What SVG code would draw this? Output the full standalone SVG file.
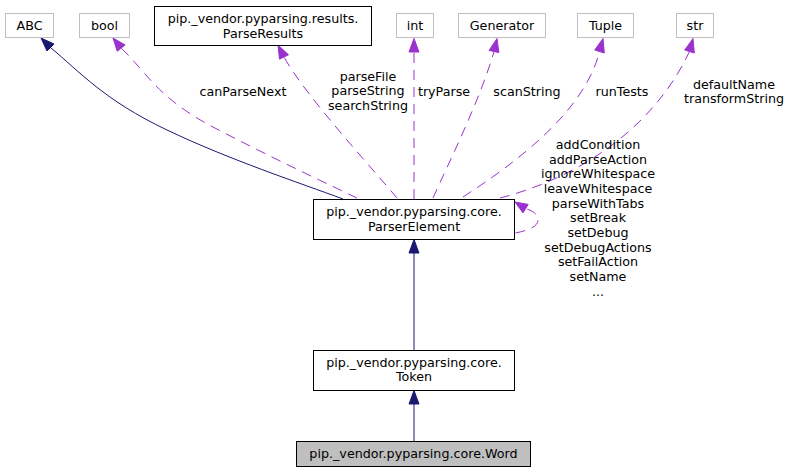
<svg xmlns="http://www.w3.org/2000/svg" width="790" height="472" viewBox="0 0 790 472">
<style>
text{font-family:"DejaVu Sans","Liberation Sans",sans-serif;font-size:12.7px;fill:#000;text-anchor:middle}
.ext rect{fill:#fff;stroke:#bfbfbf;stroke-width:1}
.cls rect{fill:#fff;stroke:#000;stroke-width:1}
.cur rect{fill:#bfbfbf;stroke:#000;stroke-width:1}
.inh{fill:none;stroke:#191970;stroke-width:1}
.inhA{fill:#191970;stroke:#191970;stroke-width:1}
.use{fill:none;stroke:#9a32cd;stroke-width:1;stroke-dasharray:10,7}
.useA{fill:#9a32cd;stroke:#9a32cd;stroke-width:1}
</style>
<rect width="790" height="472" fill="#fff"/>
<g id="edges">
<path class="inh" d="M343,199 C300,183 230,160 167,130 S80,72 50.5,47.5"/>
<polygon class="inhA" points="41,38 54,44 47,51"/>
<path class="use" d="M357,198 C330,185 270,157 213,127 S145,70 121.2,48.1"/>
<polygon class="useA" points="113,38 125.1,44.9 117.3,51.3"/>
<path class="use" d="M397,198 C365,160 305,95 284,57"/>
<polygon class="useA" points="278,45 288.5,54.8 279.5,59.2"/>
<path class="use" d="M414,199 L414,52"/>
<polygon class="useA" points="414,38.5 419,52 409,52"/>
<path class="use" d="M433,198 C450,160 480,100 494,51.5"/>
<polygon class="useA" points="497,38.5 498.9,52.6 489.1,50.4"/>
<path class="use" d="M463,197 C520,160 585,110 599.5,51.5"/>
<polygon class="useA" points="603,38.5 604.3,53 594.7,50"/>
<path class="use" d="M500,198 C570,180 650,135 689.5,51.5"/>
<polygon class="useA" points="693,38.5 694.3,53 684.7,50"/>
<path class="use" d="M515.5,233 C530,230 538,226 538,220 C538,214 533,211 525.6,208.6"/>
<polygon class="useA" points="515,202 528.2,204.4 523,212.9"/>
<path class="inh" d="M414,350 L414,253"/>
<polygon class="inhA" points="414,239.5 419,253 409,253"/>
<path class="inh" d="M414,441 L414,404"/>
<polygon class="inhA" points="414,390.5 419,404 409,404"/>
<text x="243" y="96">canParseNext</text>
<text x="368" y="80.7">parseFile</text>
<text x="368" y="95.4">parseString</text>
<text x="368" y="110.1">searchString</text>
<text x="444" y="96">tryParse</text>
<text x="527" y="96">scanString</text>
<text x="622" y="96">runTests</text>
<text x="734" y="88.5">defaultName</text>
<text x="734" y="103.2">transformString</text>
<text x="598" y="149">addCondition</text>
<text x="598" y="163.7">addParseAction</text>
<text x="598" y="178.3">ignoreWhitespace</text>
<text x="598" y="193">leaveWhitespace</text>
<text x="598" y="207.7">parseWithTabs</text>
<text x="598" y="222.4">setBreak</text>
<text x="598" y="237">setDebug</text>
<text x="598" y="251.7">setDebugActions</text>
<text x="598" y="266.4">setFailAction</text>
<text x="598" y="281">setName</text>
<text x="598" y="295.7">...</text>
</g>
<g id="ABC" class="ext"><rect x="5.5" y="13.5" width="48" height="24"/><text x="29.5" y="30">ABC</text></g>
<g id="bool" class="ext"><rect x="79.5" y="13.5" width="50" height="24"/><text x="104.5" y="30">bool</text></g>
<g id="ParseResults" class="cls"><rect x="154.5" y="6.5" width="217" height="39"/><text x="263" y="23.2">pip._vendor.pyparsing.results.</text><text x="263" y="37.9">ParseResults</text></g>
<g id="int" class="ext"><rect x="396.5" y="13.5" width="37" height="24"/><text x="415" y="30">int</text></g>
<g id="Generator" class="ext"><rect x="458.5" y="13.5" width="87" height="24"/><text x="502" y="30">Generator</text></g>
<g id="Tuple" class="ext"><rect x="577.5" y="13.5" width="56" height="24"/><text x="605.5" y="30">Tuple</text></g>
<g id="str" class="ext"><rect x="676.5" y="13.5" width="37" height="24"/><text x="695" y="30">str</text></g>
<g id="ParserElement" class="cls"><rect x="313.5" y="199.5" width="201" height="40"/><text x="414" y="216.2">pip._vendor.pyparsing.core.</text><text x="414" y="230.8">ParserElement</text></g>
<g id="Token" class="cls"><rect x="313.5" y="350.5" width="201" height="40"/><text x="414" y="366.8">pip._vendor.pyparsing.core.</text><text x="414" y="381.4">Token</text></g>
<g id="Word" class="cur"><rect x="296.5" y="441.5" width="234" height="25"/><text x="413.5" y="457.5">pip._vendor.pyparsing.core.Word</text></g>
</svg>
